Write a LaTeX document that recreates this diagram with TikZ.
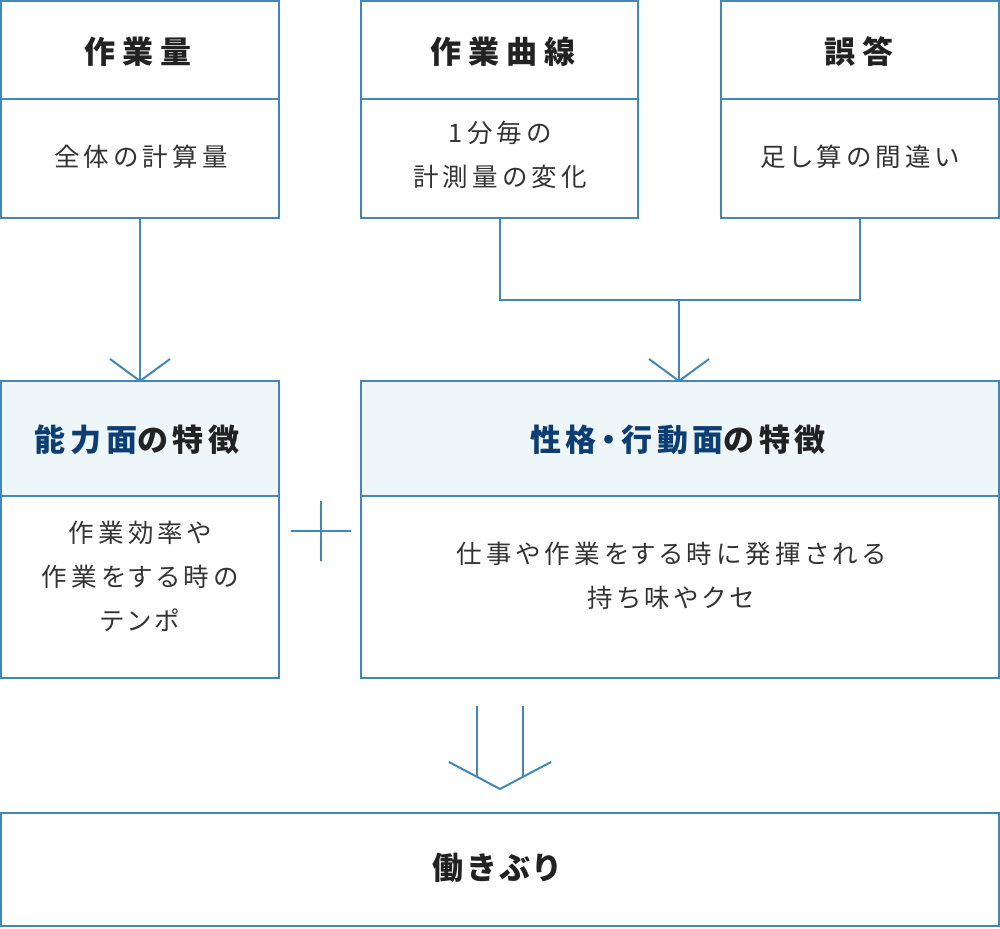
\documentclass[tikz,border=0pt]{standalone}
\usepackage{fontspec}
\setmainfont{Noto Sans CJK JP}[RawFeature={+palt}]
\definecolor{lc}{HTML}{4287B5}
\definecolor{hf}{HTML}{EEF6FA}
\definecolor{tb}{HTML}{0C3D73}
\definecolor{tx}{HTML}{222222}
\definecolor{tg}{HTML}{333333}
\tikzset{
  box/.style={draw=lc, line width=2pt, inner sep=0pt, outer sep=0pt, anchor=north west},
  hbox/.style={box, fill=hf},
  lbl/.style={inner sep=0pt, align=center},
  toph/.style={lbl, text=tx, font=\fontsize{31}{36}\selectfont\bfseries\addfontfeature{LetterSpace=22}},
  midh/.style={lbl, text=tx, font=\fontsize{31}{36}\selectfont\bfseries\addfontfeature{LetterSpace=15}},
  bodyt/.style={lbl, text=tg, font=\fontsize{25.5}{44}\selectfont\addfontfeature{LetterSpace=17}},
  conn/.style={draw=lc, line width=2pt},
}
\begin{document}
\begin{tikzpicture}[x=1pt,y=-1pt]
\useasboundingbox (0,0) rectangle (1000,928);
% top row
\node[box, minimum width=278pt, minimum height=98pt] (a1) at (1,1) {};
\node[box, minimum width=278pt, minimum height=119pt] (a2) at (1,99) {};
\node[box, minimum width=277pt, minimum height=98pt] (b1) at (361,1) {};
\node[box, minimum width=277pt, minimum height=119pt] (b2) at (361,99) {};
\node[box, minimum width=278pt, minimum height=98pt] (c1) at (721,1) {};
\node[box, minimum width=278pt, minimum height=119pt] (c2) at (721,99) {};
% middle row
\node[hbox, minimum width=278pt, minimum height=115pt] (d1) at (1,381) {};
\node[box, minimum width=278pt, minimum height=182pt] (d2) at (1,496) {};
\node[hbox, minimum width=638pt, minimum height=115pt] (e1) at (361,381) {};
\node[box, minimum width=638pt, minimum height=182pt] (e2) at (361,496) {};
% bottom
\node[box, minimum width=998pt, minimum height=113pt] (f1) at (1,813) {};
% texts
\node[toph] (ta1) at (138,52) {作業量};
\node[bodyt] (ta2) at (141,157) {全体の計算量};
\node[toph] (tb1) at (503,52) {作業曲線};
\node[bodyt] (tb2) at (500,155) {1分毎の\\計測量の変化};
\node[toph] (tc1) at (859,52) {誤答};
\node[bodyt] (tc2) at (860,157) {足し算の間違い};
\node[midh] (td1) at (137,440) {\textcolor{tb}{能力面}の特徴};
\node[bodyt] (td2) at (140,576) {作業効率や\\作業をする時の\\テンポ};
\node[midh] (te1) at (678,440) {\textcolor{tb}{性格・行動面}の特徴};
\node[bodyt] (te2) at (671,576) {仕事や作業をする時に発揮される\\持ち味やクセ};
\node[midh] (tf1) at (496,868) {働きぶり};
% connector 1
\draw[conn] (a2.south) -- (d1.north);
\draw[conn] (d1.north) ++(-30,-22) -- (d1.north) -- ++(30,-22);
% connector 2
\coordinate (j) at (679,300);
\draw[conn] (b2.south) |- (j) -| (c2.south);
\draw[conn] (j) -- (e1.north -| j);
\draw[conn] (e1.north -| j) ++(-30,-22) -- (e1.north -| j) -- ++(30,-22);
% plus
\coordinate (p) at (321,531);
\draw[conn] (p) ++(-30,0) -- ++(60,0);
\draw[conn] (p) ++(0,-30) -- ++(0,60);
% double arrow
\coordinate (tip) at (500,789);
\coordinate (l1) at (477,706);
\coordinate (l2) at (523,706);
\draw[conn] (l1) -- (477,776.8);
\draw[conn] (l2) -- (523,776.8);
\draw[conn] (449,762) -- (tip) -- (551,762);
\end{tikzpicture}
\end{document}
